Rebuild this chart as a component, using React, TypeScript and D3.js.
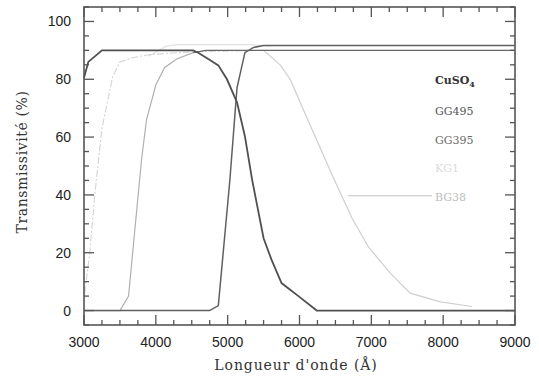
import * as d3 from "d3";

// transmission curves: [wavelength Å, %]
const cuso4: [number, number][] = [
  [3000, 80.5], [3060, 86], [3250, 90], [4520, 90], [4590, 89.2], [4730, 87], [4870, 84.8],
  [4990, 80], [5130, 72], [5240, 60.3], [5340, 45.3], [5500, 25], [5610, 17.6], [5750, 9.5],
  [5870, 7.2], [5990, 4.9], [6240, 0], [9000, 0],
];
const gg495: [number, number][] = [
  [3000, 0], [4750, 0], [4870, 1.7], [5030, 45], [5130, 77], [5240, 89.2], [5360, 91],
  [5500, 91.7], [9000, 91.7],
];
const gg395: [number, number][] = [
  [3000, 0], [3500, 0], [3620, 5], [3800, 52], [3870, 66], [4000, 78], [4120, 84],
  [4290, 87], [4520, 89.2], [4700, 90], [9000, 90],
];
const kg1: [number, number][] = [
  [3900, 88], [4150, 91.5], [4300, 92], [5300, 92], [5600, 91.5],
];
const bg38: [number, number][] = [
  [3010, 6], [3080, 20], [3150, 40], [3250, 63], [3400, 81], [3500, 86], [3690, 87.5],
  [3900, 88.5], [4500, 89.5], [5500, 90], [5730, 85], [5870, 80], [6080, 68], [6470, 46],
  [6730, 32], [6960, 22], [7260, 13], [7540, 6], [7960, 3], [8400, 1.4],
];

const xTicks = [3000, 4000, 5000, 6000, 7000, 8000, 9000];
const yTicks = [0, 20, 40, 60, 80, 100];
const legendNames = ["GG495", "GG395", "KG1", "BG38"];
const legendColors = ["#555", "#6a6a6a", "#dadada", "#bdbdbd"];

export default function App() {
  const x = d3.scaleLinear().domain([3000, 9000]).range([84, 515]);
  const y = d3.scaleLinear().domain([-5, 105]).range([325, 7]);
  const line = d3
    .line<[number, number]>()
    .x((d) => x(d[0]))
    .y((d) => y(d[1]));

  const xMinor = d3.range(3000, 9001, 250);
  const yMinor = d3.range(-5, 106, 5);
  const axisCol = "#555";
  const [x0, x1] = x.range();
  const [y0, y1] = y.range();

  // the scan shows some parts of a curve fainter than others
  const bgA = bg38.filter((d) => d[0] <= 5500);
  const bgB = bg38.filter((d) => d[0] >= 5500);
  const ggA = gg395.filter((d) => d[0] <= 4520);
  const ggB = gg395.filter((d) => d[0] >= 4520);

  return (
    <svg width={539} height={381} style={{ position: "absolute", left: 0, top: 0, background: "#fff" }}>
      {/* curves */}
      <path d={line(kg1)!} fill="none" stroke="#e0e0e0" strokeWidth={1.2} />
      <path d={line(bgA)!} fill="none" stroke="#d4d4d4" strokeWidth={1.1} strokeDasharray="7 2 2 2" />
      <path d={line(bgB)!} fill="none" stroke="#cfcfcf" strokeWidth={1.2} />
      <path d={line(ggA)!} fill="none" stroke="#b0b0b0" strokeWidth={1.2} />
      <path d={line(ggB)!} fill="none" stroke="#666" strokeWidth={1.4} />
      <path d={line(gg495)!} fill="none" stroke="#606060" strokeWidth={1.5} />
      <path d={line(cuso4)!} fill="none" stroke="#505050" strokeWidth={1.8} />

      {/* frame and ticks */}
      <rect x={x0} y={y1} width={x1 - x0} height={y0 - y1} fill="none" stroke={axisCol} strokeWidth={1.6} />
      {xMinor.map((v) => {
        const len = v % 1000 === 0 ? 10 : 5;
        return (
          <g key={"xt" + v} stroke={axisCol} strokeWidth={1.3}>
            <line x1={x(v)} x2={x(v)} y1={y0} y2={y0 - len} />
            <line x1={x(v)} x2={x(v)} y1={y1} y2={y1 + len} />
          </g>
        );
      })}
      {yMinor.map((v) => {
        const len = v % 20 === 0 ? 10 : 5;
        return (
          <g key={"yt" + v} stroke={axisCol} strokeWidth={1.3}>
            <line x1={x0} x2={x0 + len} y1={y(v)} y2={y(v)} />
            <line x1={x1} x2={x1 - len} y1={y(v)} y2={y(v)} />
          </g>
        );
      })}

      {/* tick labels */}
      <g fontFamily="'Liberation Sans', Arial, sans-serif" fontSize={14} fill="#222" fontWeight={500}>
        {xTicks.map((v) => (
          <text key={"xl" + v} x={x(v)} y={347} textAnchor="middle">
            {v}
          </text>
        ))}
        {yTicks.map((v) => (
          <text key={"yl" + v} x={71} y={y(v) + 5} textAnchor="end">
            {v}
          </text>
        ))}
      </g>

      {/* axis titles */}
      <text x={296} y={370} textAnchor="middle" fontFamily="'DejaVu Serif', serif" fontSize={14} letterSpacing={0.9} fill="#333">
        Longueur d'onde (Å)
      </text>
      <text
        transform="translate(27,162) rotate(-90)"
        textAnchor="middle"
        fontFamily="'DejaVu Serif', serif"
        fontSize={14}
        letterSpacing={0.6}
        fill="#333"
      >
        Transmissivité (%)
      </text>

      {/* legend */}
      <g fontFamily="'DejaVu Serif', serif" fontSize={11}>
        <text x={435} y={84} fill="#333" fontWeight="bold">
          CuSO<tspan dy={3} fontSize={8}>4</tspan>
        </text>
        {legendNames.map((n, i) => (
          <text key={n} x={435} y={115 + i * 28.5} fill={legendColors[i]}>
            {n}
          </text>
        ))}
        <line x1={348} x2={432} y1={y(39.7)} y2={y(39.7)} stroke="#c4c4c4" strokeWidth={1} />
      </g>
    </svg>
  );
}
